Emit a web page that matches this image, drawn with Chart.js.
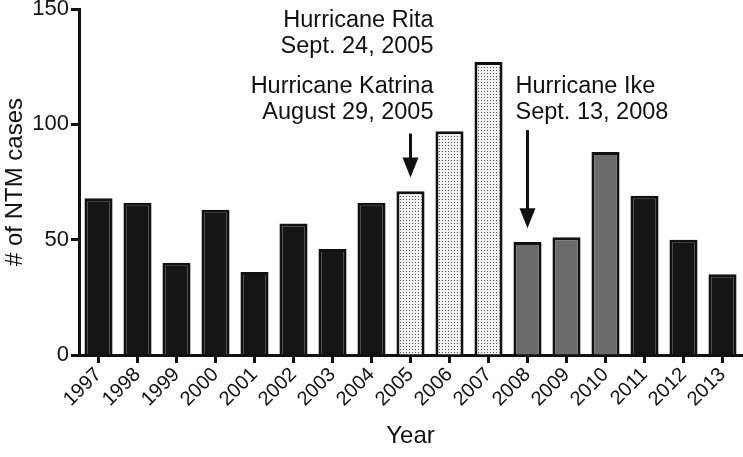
<!DOCTYPE html>
<html>
<head>
<meta charset="utf-8">
<script src="https://cdn.jsdelivr.net/npm/chart.js@4/dist/chart.umd.min.js"></script>
<style>
  html, body { margin: 0; padding: 0; background: #fff; }
  #wrap { width: 743px; height: 457px; }
</style>
</head>
<body>
<div id="wrap"><canvas id="myChart1" width="743" height="457"></canvas></div>
<script>
// data
const years = ["1997","1998","1999","2000","2001","2002","2003","2004","2005","2006","2007","2008","2009","2010","2011","2012","2013"];
const cases = [68, 66, 40, 63, 36, 57, 46, 66, 71, 97, 127, 49, 51, 88, 69, 50, 35];
// which group each year belongs to: 0 = normal, 1 = after Katrina/Rita, 2 = after Ike
const groups = [0, 0, 0, 0, 0, 0, 0, 0, 1, 1, 1, 2, 2, 2, 0, 0, 0];
const yTicks = [0, 50, 100, 150];

const notes = [
  { lines: ["Hurricane Rita", "Sept. 24, 2005"], at: 8, y: 145, align: "right", dx: 23 },
  { lines: ["Hurricane Katrina", "August 29, 2005"], at: 8, y: 116.5, align: "right", dx: 23 },
  { lines: ["Hurricane Ike", "Sept. 13, 2008"], at: 11, y: 116.5, align: "left", dx: -12 }
];
const arrows = [
  { at: 8, from: 96, to: 77 },
  { at: 11, from: 97.5, to: 55 }
];

function dotPattern(){
  const c = document.createElement("canvas");
  c.width = 3; c.height = 3;
  const g = c.getContext("2d");
  g.fillStyle = "#f2f2f2";
  g.fillRect(0, 0, 3, 3);
  g.fillStyle = "#555";
  g.fillRect(1, 1, 1, 1);
  return document.getElementById("myChart1").getContext("2d").createPattern(c, "repeat");
}

const dots = dotPattern();
const fills = groups.map(g => g == 1 ? dots : (g == 2 ? "#6b6b6b" : "#151515"));

const notesPlugin = {
  id: "notes",
  afterDraw(chart){
    const ctx = chart.ctx;
    const x = chart.scales.x;
    const y = chart.scales.y;
    ctx.save();
    ctx.fillStyle = "#111";
    ctx.font = "23.5px 'Liberation Sans', Arial, sans-serif";
    ctx.textBaseline = "middle";
    notes.forEach((n) => {
      ctx.textAlign = n.align;
      const px = x.getPixelForValue(n.at) + n.dx;
      const py = y.getPixelForValue(n.y);
      n.lines.forEach((t, i) => ctx.fillText(t, px, py + i * 26));
    });
    ctx.strokeStyle = "#111";
    ctx.lineWidth = 3;
    arrows.forEach((a) => {
      const px = x.getPixelForValue(a.at);
      const y0 = y.getPixelForValue(a.from);
      const y1 = y.getPixelForValue(a.to);
      ctx.beginPath();
      ctx.moveTo(px, y0);
      ctx.lineTo(px, y1 - 16);
      ctx.stroke();
      ctx.beginPath();
      ctx.moveTo(px - 8, y1 - 20);
      ctx.lineTo(px + 8, y1 - 20);
      ctx.lineTo(px, y1);
      ctx.closePath();
      ctx.fill();
    });
    ctx.restore();
  }
};

Chart.defaults.font.family = "'Liberation Sans', Arial, sans-serif";
Chart.defaults.color = "#111";

new Chart(document.getElementById("myChart1"), {
  type: "bar",
  data: {
    labels: years,
    datasets: [
      {
        label: "# of NTM cases",
        data: cases,
        backgroundColor: fills,
        borderColor: "#111",
        borderWidth: 3,
        borderSkipped: "bottom",
        barPercentage: 0.72,
        categoryPercentage: 1.0
      }
    ]
  },
  options: {
    responsive: false,
    animation: false,
    layout: { padding: { top: 9, right: 1, left: 0, bottom: 0 } },
    plugins: {
      legend: { display: false },
      tooltip: { enabled: false }
    },
    scales: {
      x: {
        afterFit(axis){ axis.height = 102; axis.paddingLeft = 0; axis.paddingRight = 0; },
        grid: { offset: false, drawOnChartArea: false, drawTicks: true, tickLength: 8, tickWidth: 3, tickColor: "#111" },
        border: { width: 3, color: "#111" },
        ticks: { font: { size: 20 }, maxRotation: 45, minRotation: 45, padding: 0 },
        title: { display: true, text: "Year", font: { size: 24 }, padding: { top: 0, bottom: 6 } }
      },
      y: {
        min: 0,
        max: 150,
        afterBuildTicks(axis){ axis.ticks = yTicks.map(v => ({ value: v })); },
        afterFit(axis){ axis.width = 79; axis.paddingTop = 0; axis.paddingBottom = 0; },
        grid: { drawOnChartArea: false, drawTicks: true, tickLength: 8, tickWidth: 3, tickColor: "#111" },
        border: { width: 3, color: "#111" },
        ticks: { font: { size: 22 }, padding: 2 },
        title: { display: true, text: "# of NTM cases", font: { size: 24 }, padding: { top: 1, bottom: 1 } }
      }
    }
  },
  plugins: [notesPlugin]
});
</script>
</body>
</html>
